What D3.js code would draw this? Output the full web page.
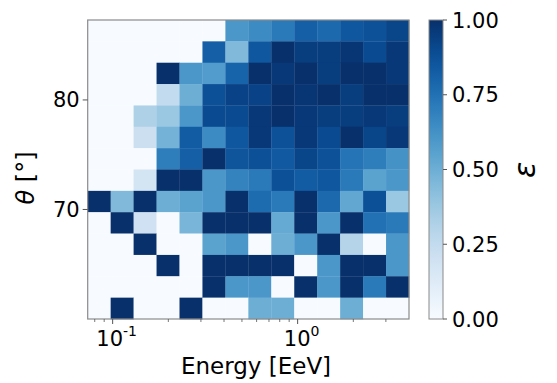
<!DOCTYPE html>
<html><head><meta charset="utf-8">
<script src="https://cdn.jsdelivr.net/npm/d3@7"></script>
<style>body{margin:0;background:#fff}svg{display:block}text{font-family:"DejaVu Sans",sans-serif;fill:#000}</style>
</head><body><svg id="c" width="557" height="383"></svg>
<script>
// energy axis range [EeV], theta range [deg]
const energyRange = [0.0733, 4.0];
const thetaRange = [60.0, 87.3];
const nEnergyBins = 14;
const nThetaBins = 14;
const xTickMajor = [0.1, 1];
const yTicks = [70, 80];
const cbTicks = [0, 0.25, 0.5, 0.75, 1.0];
// efficiency, rows from highest theta bin (top) to lowest (bottom)
const row0  = [0,0,0,0,0,0,0.6,0.65,0.72,0.82,0.78,0.85,0.87,0.92];
const row1  = [0,0,0,0,0,0.82,0.45,0.85,1.0,0.95,0.95,0.98,0.9,0.97];
const row2  = [0,0,0,1.0,0.6,0.58,0.8,1.0,0.97,1.0,0.95,1.0,1.0,0.97];
const row3  = [0,0,0,0.25,0.5,0.88,0.93,0.93,1.0,0.98,1.0,0.95,1.0,1.0];
const row4  = [0,0,0.32,0.38,0.6,0.9,0.9,0.97,1.0,0.97,0.95,0.95,0.97,0.95];
const row5  = [0,0,0.22,0.48,0.83,0.65,0.85,0.97,0.87,0.97,0.9,1.0,0.92,0.97];
const row6  = [0,0,0,0.7,0.82,1.0,0.86,0.88,0.84,0.92,0.87,0.74,0.7,0.62];
const row7  = [0,0,0.18,1.0,1.0,0.6,0.68,0.72,0.88,0.83,0.85,0.72,0.55,0.6];
const row8  = [1.0,0.45,1.0,0.5,0.55,0.6,1.0,0.77,0.72,1.0,0.78,0.53,0.88,0.38];
const row9  = [0,1.0,0.2,0,0.47,1.0,1.0,1.0,0.52,1.0,0.6,1.0,0.75,0.72];
const row10 = [0,0,1.0,0,0,0.55,0.6,0,0.5,0.6,1.0,0.3,0,0.6];
const row11 = [0,0,0,1.0,0,1.0,1.0,1.0,1.0,0,0.6,1.0,1.0,0.6];
const row12 = [0,0,0,0,0,1.0,0.6,0.6,0,1.0,0.6,1.0,0.72,1.0];
const row13 = [0,1.0,0,0,1.0,0,0,0.5,0.5,0,0,0.5,0,0];
const rows = [row0,row1,row2,row3,row4,row5,row6,row7,row8,row9,row10,row11,row12,row13];

const svg = d3.select("#c");
const L = 87.7, R = 409, T = 20, B = 319;
const x = d3.scaleLog().domain(energyRange).range([L, R]);
const y = d3.scaleLinear().domain(thetaRange).range([B, T]);
const color = v => d3.interpolateBlues(v);

const lx0 = Math.log10(energyRange[0]), lx1 = Math.log10(energyRange[1]);
const eEdges = d3.range(nEnergyBins + 1).map(i => Math.pow(10, lx0 + (lx1 - lx0) * i / nEnergyBins));
const tEdges = d3.range(nThetaBins + 1).map(i => thetaRange[0] + (thetaRange[1] - thetaRange[0]) * i / nThetaBins);

const cells = [];
rows.forEach((r, ri) => r.forEach((v, ci) => {
  const ti = nThetaBins - 1 - ri;
  cells.push({e0: eEdges[ci], e1: eEdges[ci+1], t0: tEdges[ti], t1: tEdges[ti+1], v});
}));
svg.append("g").selectAll("rect").data(cells).join("rect")
  .attr("x", d => x(d.e0)).attr("y", d => y(d.t1))
  .attr("width", d => x(d.e1) - x(d.e0) + 0.3)
  .attr("height", d => y(d.t0) - y(d.t1) + 0.3)
  .attr("fill", d => color(d.v));

// frame
svg.append("rect").attr("x", L).attr("y", T).attr("width", R - L).attr("height", B - T)
  .attr("fill", "none").attr("stroke", "#8a8a8a").attr("stroke-width", 1.2);

// x axis
const minorTicks = [];
[0.01, 0.1, 1].forEach(d => { for (let k = 2; k <= 9; k++) { const v = d * k; if (v > energyRange[0] && v < energyRange[1]) minorTicks.push(v); } });
const xa = svg.append("g");
xa.selectAll("line.mn").data(minorTicks).join("line").attr("class","mn")
  .attr("x1", d => x(d)).attr("x2", d => x(d)).attr("y1", B).attr("y2", B + 3).attr("stroke", "#555").attr("stroke-width", 0.8);
xa.selectAll("line.mj").data(xTickMajor).join("line").attr("class","mj")
  .attr("x1", d => x(d)).attr("x2", d => x(d)).attr("y1", B).attr("y2", B + 5).attr("stroke", "#555").attr("stroke-width", 1);
const xl = xa.selectAll("text").data(xTickMajor).join("text")
  .attr("x", d => x(d) + 4).attr("y", B + 27).attr("text-anchor", "middle").attr("font-size", 21);
xl.append("tspan").text("10");
xl.append("tspan").attr("dy", -10).attr("font-size", 14).text(d => String(Math.round(Math.log10(d))));
svg.append("text").attr("x", 256).attr("y", 374).attr("text-anchor", "middle").attr("font-size", 23).text("Energy [EeV]");

// y axis
const ya = svg.append("g");
ya.selectAll("line").data(yTicks).join("line")
  .attr("x1", L - 5).attr("x2", L).attr("y1", d => y(d)).attr("y2", d => y(d)).attr("stroke", "#555");
ya.selectAll("text").data(yTicks).join("text")
  .attr("x", L - 8).attr("y", d => y(d) + 7.5).attr("text-anchor", "end").attr("font-size", 21).text(d => d);
const yl = svg.append("text").attr("transform", "translate(34,178) rotate(-90)").attr("text-anchor", "middle").attr("font-size", 24);
yl.append("tspan").attr("font-style", "italic").text("θ");
yl.append("tspan").text(" [°]");

// colorbar
const cbL = 429, cbR = 443;
const cy = d3.scaleLinear().domain([0, 1]).range([B, T]);
const defs = svg.append("defs");
const grad = defs.append("linearGradient").attr("id", "cbg").attr("x1", 0).attr("y1", 1).attr("x2", 0).attr("y2", 0);
d3.range(0, 1.0001, 0.05).forEach(t => grad.append("stop").attr("offset", t).attr("stop-color", color(t)));
svg.append("rect").attr("x", cbL).attr("y", T).attr("width", cbR - cbL).attr("height", B - T)
  .attr("fill", "url(#cbg)").attr("stroke", "#8a8a8a").attr("stroke-width", 1);
svg.append("g").selectAll("line").data(cbTicks).join("line")
  .attr("x1", cbR).attr("x2", cbR + 4).attr("y1", d => cy(d)).attr("y2", d => cy(d)).attr("stroke", "#555");
svg.append("g").selectAll("text").data(cbTicks).join("text")
  .attr("x", cbR + 9).attr("y", d => cy(d) + 7.5).attr("font-size", 21).text(d => d.toFixed(2));
svg.append("text").attr("transform", "translate(535,170) rotate(-90)").attr("text-anchor", "middle")
  .attr("font-size", 30).attr("font-style", "italic").text("ε");
</script></body></html>
